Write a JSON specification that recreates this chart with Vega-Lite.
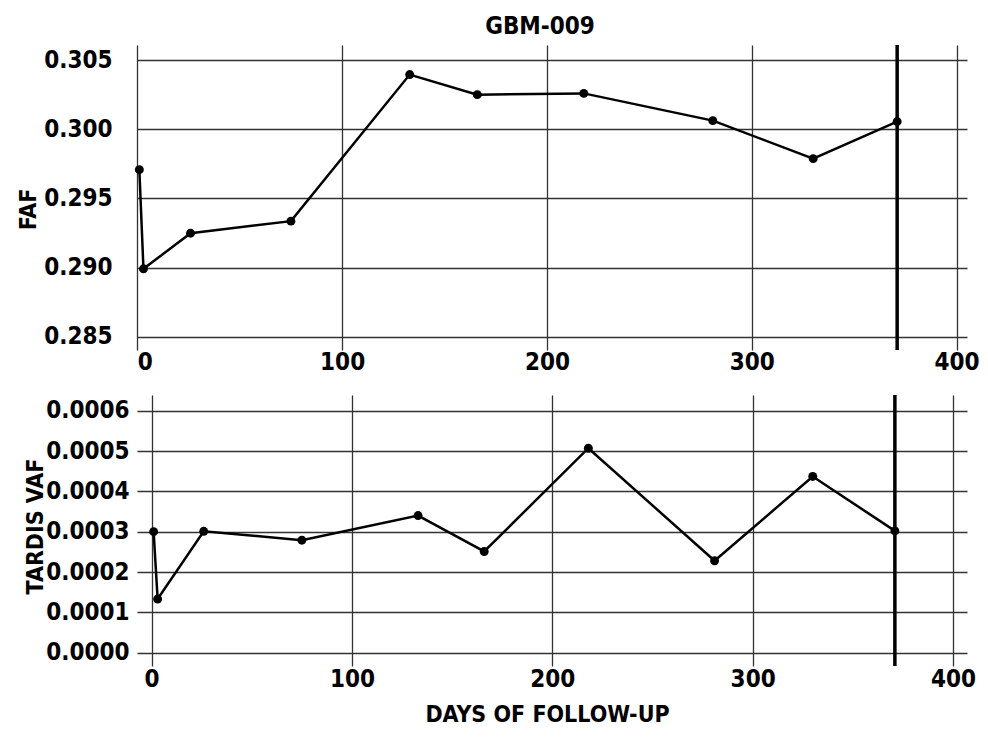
{
  "$schema": "https://vega.github.io/schema/vega-lite/v6.json",
  "background": "white",
  "padding": {"left": 17, "top": 15, "right": 5, "bottom": 5},
  "config": {
    "font": "DejaVu Sans Condensed, Liberation Sans",
    "view": {"stroke": null},
    "axis": {
      "domain": false,
      "ticks": false,
      "tickSize": 0,
      "grid": true,
      "gridColor": "#333333",
      "gridWidth": 1.3,
      "gridOpacity": 1,
      "labelFont": "DejaVu Sans Condensed, Liberation Sans",
      "labelFontWeight": "bold",
      "labelFontSize": 24,
      "labelColor": "black",
      "titleFont": "DejaVu Sans Condensed, Liberation Sans",
      "titleFontWeight": "bold",
      "titleFontSize": 23,
      "titleColor": "black"
    },
    "axisX": {"labelPadding": 1, "titlePadding": 12}
  },
  "datasets": {
    "visits": [
      {"day": 1, "faf": 0.29708, "tardis": 0.000300},
      {"day": 3, "faf": 0.28991, "tardis": 0.000133},
      {"day": 26, "faf": 0.29249, "tardis": 0.000301},
      {"day": 75, "faf": 0.29336, "tardis": 0.000279},
      {"day": 133, "faf": 0.30396, "tardis": 0.000340},
      {"day": 166, "faf": 0.30251, "tardis": 0.000251},
      {"day": 218, "faf": 0.30260, "tardis": 0.000507},
      {"day": 281, "faf": 0.30063, "tardis": 0.000228},
      {"day": 330, "faf": 0.29788, "tardis": 0.000437},
      {"day": 371, "faf": 0.30056, "tardis": 0.000302}
    ],
    "cutoff": [{"day": 371}]
  },
  "spacing": 19,
  "vconcat": [
    {
      "width": 830,
      "height": 305,
      "title": {"text": "GBM-009", "anchor": "middle", "frame": "group", "fontSize": 24, "fontWeight": "bold", "font": "DejaVu Sans Condensed, Liberation Sans", "color": "black", "offset": 4, "dx": -12},
      "encoding": {
        "x": {"field": "day", "type": "quantitative",
              "scale": {"domain": [-0.15, 405.1], "nice": false, "zero": false},
              "axis": {"values": [0, 100, 200, 300, 400], "title": null, "labelPadding": 0}},
        "y": {"field": "faf", "type": "quantitative",
              "scale": {"domain": [0.28404, 0.3061], "nice": false, "zero": false},
              "axis": {"values": [0.285, 0.29, 0.295, 0.3, 0.305], "format": ".3f", "title": "FAF",
                       "offset": 15, "labelPadding": 10, "minExtent": 80, "maxExtent": 80, "titlePadding": 2, "titleY": 164}}
      },
      "layer": [
        {"data": {"name": "visits"}, "mark": {"type": "line", "color": "black", "strokeWidth": 2.5}},
        {"data": {"name": "visits"}, "mark": {"type": "point", "filled": true, "color": "black", "opacity": 1, "size": 80}},
        {"data": {"name": "cutoff"}, "mark": {"type": "rule", "color": "black", "strokeWidth": 3.5},
         "encoding": {"x": {"field": "day", "type": "quantitative"}, "y": null}}
      ]
    },
    {
      "width": 830,
      "height": 271,
      "encoding": {
        "x": {"field": "day", "type": "quantitative",
              "scale": {"domain": [-7.3, 407], "nice": false, "zero": false},
              "axis": {"values": [0, 100, 200, 300, 400], "title": "DAYS OF FOLLOW-UP", "titleX": 410}},
        "y": {"field": "tardis", "type": "quantitative",
              "scale": {"domain": [-0.000033, 0.000639], "nice": false, "zero": false},
              "axis": {"values": [0, 0.0001, 0.0002, 0.0003, 0.0004, 0.0005, 0.0006], "format": ".4f", "title": "TARDIS VAF",
                       "labelPadding": 8, "minExtent": 88, "maxExtent": 88, "titlePadding": 2, "titleY": 131}}
      },
      "layer": [
        {"data": {"name": "visits"}, "mark": {"type": "line", "color": "black", "strokeWidth": 2.5}},
        {"data": {"name": "visits"}, "mark": {"type": "point", "filled": true, "color": "black", "opacity": 1, "size": 80}},
        {"data": {"name": "cutoff"}, "mark": {"type": "rule", "color": "black", "strokeWidth": 3.5},
         "encoding": {"x": {"field": "day", "type": "quantitative"}, "y": null}}
      ]
    }
  ]
}
